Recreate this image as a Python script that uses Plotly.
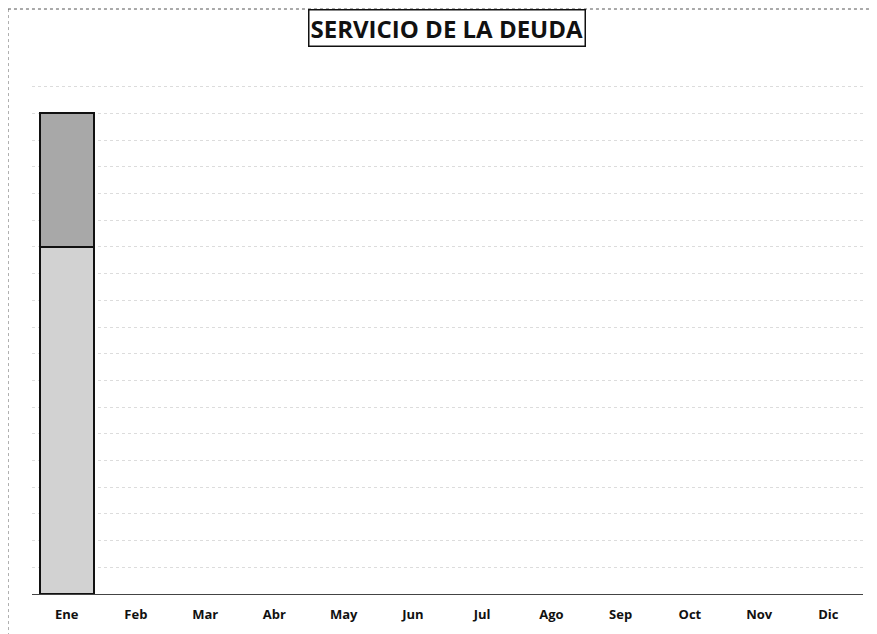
import plotly.graph_objects as go

months = ["Ene", "Feb", "Mar", "Abr", "May", "Jun", "Jul", "Ago", "Sep", "Oct", "Nov", "Dic"]
serie_inferior = [13.0, None, None, None, None, None, None, None, None, None, None, None]
serie_superior = [5.0, None, None, None, None, None, None, None, None, None, None, None]
titulo = "SERVICIO DE LA DEUDA"

fig = go.Figure()
fig.add_trace(go.Bar(x=months, y=serie_inferior, name="Inferior",
                     marker=dict(color="#d2d2d2", line=dict(color="#111111", width=2))))
fig.add_trace(go.Bar(x=months, y=serie_superior, name="Superior",
                     marker=dict(color="#a8a8a8", line=dict(color="#111111", width=2))))

fig.update_layout(
    barmode="stack",
    bargap=0.22,
    width=877, height=634,
    margin=dict(l=24, r=22, t=52, b=48),
    paper_bgcolor="white", plot_bgcolor="white",
    showlegend=False,
    font=dict(family="Open Sans", color="#111111"),
    annotations=[dict(
        text="<b>" + titulo + "</b>", xref="paper", yref="paper",
        x=0.499, y=1.06, xanchor="center", yanchor="middle", showarrow=False,
        font=dict(size=24, family="Open Sans", color="#111111"),
        bordercolor="#111111", borderwidth=1.5, borderpad=1, bgcolor="white")],
    shapes=[
        dict(type="line", xref="paper", yref="paper", x0=-0.0289, x1=1.03, y0=1.0955, y1=1.0955,
             line=dict(color="#555555", width=1, dash="dot")),
        dict(type="line", xref="paper", yref="paper", x0=-0.0289, x1=-0.0289, y0=-0.09, y1=1.0955,
             line=dict(color="#555555", width=1, dash="dot")),
    ],
)
fig.update_xaxes(showgrid=False, showline=True, linecolor="#444444", linewidth=1,
                 ticks="", ticklabelstandoff=8,
                 tickfont=dict(size=13, family="Open Sans", color="#111111"),
                 tickprefix="<b>", ticksuffix="</b>")
fig.update_yaxes(range=[0, 20], dtick=1, showgrid=True, gridcolor="#dcdcdc", griddash="dot",
                 gridwidth=1, showticklabels=False, zeroline=False, showline=False)

fig.write_html("out.html")
